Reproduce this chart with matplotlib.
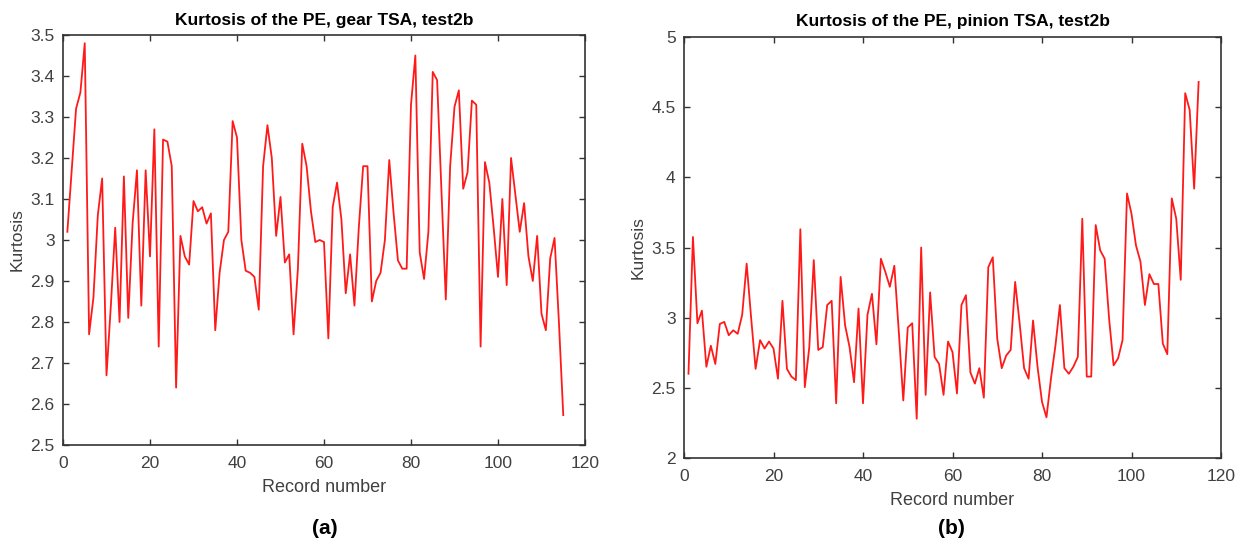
import matplotlib
matplotlib.use("Agg")
import matplotlib.pyplot as plt
from matplotlib.ticker import FixedLocator

plt.rcParams['font.family'] = ['Liberation Sans', 'DejaVu Sans']

record_a = list(range(1, 116))
kurt_gear = [
    3.02, 3.17, 3.32, 3.36, 3.48, 2.77, 2.86, 3.06, 3.15, 2.67,
    2.84, 3.03, 2.80, 3.155, 2.81, 3.04, 3.17, 2.84, 3.17, 2.96,
    3.27, 2.74, 3.245, 3.24, 3.18, 2.64, 3.01, 2.96, 2.94, 3.095,
    3.07, 3.08, 3.04, 3.065, 2.78, 2.92, 3.00, 3.02, 3.29, 3.25,
    3.00, 2.925, 2.92, 2.91, 2.83, 3.18, 3.28, 3.20, 3.01, 3.105,
    2.945, 2.965, 2.77, 2.93, 3.235, 3.18, 3.07, 2.995, 3.00, 2.995,
    2.76, 3.08, 3.14, 3.05, 2.87, 2.965, 2.84, 3.03, 3.18, 3.18,
    2.85, 2.90, 2.92, 3.00, 3.195, 3.065, 2.95, 2.93, 2.93, 3.33,
    3.45, 2.97, 2.905, 3.02, 3.41, 3.39, 3.12, 2.855, 3.18, 3.325,
    3.365, 3.125, 3.165, 3.34, 3.33, 2.74, 3.19, 3.14, 3.03, 2.91,
    3.10, 2.89, 3.20, 3.11, 3.02, 3.09, 2.96, 2.90, 3.01, 2.82,
    2.78, 2.955, 3.005, 2.80, 2.573,
]

record_b = list(range(1, 116))
kurt_pinion = [
    2.60, 3.575, 2.96, 3.05, 2.65, 2.80, 2.67, 2.955, 2.97, 2.875,
    2.91, 2.885, 3.02, 3.385, 3.00, 2.635, 2.84, 2.78, 2.83, 2.78,
    2.565, 3.12, 2.635, 2.58, 2.555, 3.63, 2.505, 2.79, 3.41, 2.77,
    2.79, 3.09, 3.12, 2.39, 3.29, 2.945, 2.79, 2.54, 3.065, 2.39,
    3.02, 3.17, 2.81, 3.42, 3.325, 3.22, 3.37, 2.90, 2.41, 2.93,
    2.96, 2.28, 3.50, 2.45, 3.18, 2.72, 2.67, 2.45, 2.83, 2.755,
    2.46, 3.09, 3.16, 2.61, 2.53, 2.64, 2.43, 3.36, 3.43, 2.85,
    2.64, 2.73, 2.77, 3.255, 2.96, 2.64, 2.565, 2.98, 2.65, 2.40,
    2.29, 2.565, 2.80, 3.09, 2.64, 2.60, 2.65, 2.72, 3.705, 2.58,
    2.58, 3.66, 3.48, 3.42, 2.99, 2.66, 2.71, 2.84, 3.885, 3.74,
    3.515, 3.40, 3.09, 3.31, 3.24, 3.24, 2.815, 2.74, 3.85, 3.705,
    3.27, 4.60, 4.48, 3.92, 4.68,
]

x_ticks = [0, 20, 40, 60, 80, 100, 120]
y_ticks_a = [2.5, 2.6, 2.7, 2.8, 2.9, 3.0, 3.1, 3.2, 3.3, 3.4, 3.5]
y_labels_a = ['2.5', '2.6', '2.7', '2.8', '2.9', '3', '3.1', '3.2', '3.3', '3.4', '3.5']
y_ticks_b = [2, 2.5, 3, 3.5, 4, 4.5, 5]
y_labels_b = ['2', '2.5', '3', '3.5', '4', '4.5', '5']

title_a = "Kurtosis of the PE, gear TSA, test2b"
title_b = "Kurtosis of the PE, pinion TSA, test2b"

W, H = 1240, 547
fig = plt.figure(figsize=(W / 100, H / 100), dpi=100)

def px_axes(x0, y0, x1, y1):
    return fig.add_axes([x0 / W, 1 - y1 / H, (x1 - x0) / W, (y1 - y0) / H])

ax_a = px_axes(63, 35, 585, 445)
ax_b = px_axes(684, 37, 1221, 458)

spine_col = '#333333'
text_col = '#404040'

def style(ax, yt, yl, ylim, xlabel_pad):
    ax.set_xlim(0, 120)
    ax.set_ylim(*ylim)
    ax.xaxis.set_major_locator(FixedLocator(x_ticks))
    ax.set_xticklabels([str(v) for v in x_ticks])
    ax.set_yticks(yt)
    ax.set_yticklabels(yl)
    ax.tick_params(direction='in', top=True, right=True, length=4, width=1,
                   colors=spine_col, labelcolor=text_col, labelsize=12.5)
    ax.tick_params(axis='x', pad=8)
    ax.tick_params(axis='y', pad=6)
    for s in ax.spines.values():
        s.set_color(spine_col)
        s.set_linewidth(1.2)
    ax.set_xlabel("Record number", color=text_col, fontsize=13, labelpad=xlabel_pad)
    ax.set_ylabel("Kurtosis", color=text_col, fontsize=12.5, labelpad=4)

ax_a.plot(record_a, kurt_gear, color='#ff1a1a', linewidth=1.3)
style(ax_a, y_ticks_a, y_labels_a, (2.5, 3.5), 6)
ax_a.set_title(title_a, fontsize=12.5, fontweight='bold', pad=7)

ax_b.plot(record_b, kurt_pinion, color='#ff1a1a', linewidth=1.3)
style(ax_b, y_ticks_b, y_labels_b, (2, 5), 6)
ax_b.set_title(title_b, fontsize=12.5, fontweight='bold', pad=8)

fig.text(325 / W, 1 - 528 / H, "(a)", ha='center', va='center', fontsize=15, fontweight='bold')
fig.text(951 / W, 1 - 528 / H, "(b)", ha='center', va='center', fontsize=15, fontweight='bold')

fig.savefig("out.png", dpi=100)
